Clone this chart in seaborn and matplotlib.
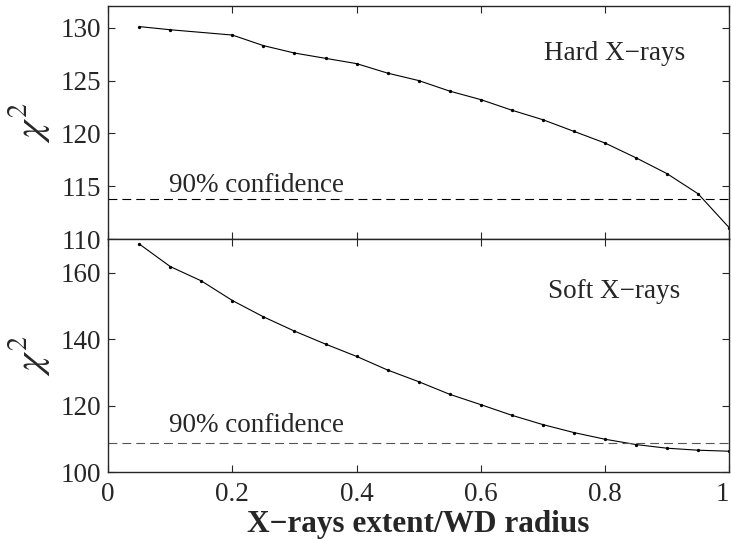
import matplotlib
matplotlib.use("Agg")
import matplotlib.pyplot as plt
import seaborn as sns
import pandas as pd

# extent of the X-ray region in units of WD radius
x_hard = [0.05, 0.1, 0.2, 0.25, 0.3, 0.35, 0.4, 0.45, 0.5, 0.55, 0.6,
          0.65, 0.7, 0.75, 0.8, 0.85, 0.9, 0.95, 1.0]
chi2_hard = [130.1, 129.8, 129.3, 128.3, 127.6, 127.1, 126.6, 125.7, 125.0, 124.0,
             123.2, 122.2, 121.3, 120.2, 119.1, 117.7, 116.2, 114.3, 111.1]
conf_hard = 113.8

x_soft = [0.05, 0.1, 0.15, 0.2, 0.25, 0.3, 0.35, 0.4, 0.45, 0.5, 0.55, 0.6,
          0.65, 0.7, 0.75, 0.8, 0.85, 0.9, 0.95, 1.0]
chi2_soft = [168.6, 161.8, 157.5, 151.6, 146.7, 142.4, 138.5, 134.8, 130.7, 127.2,
             123.4, 120.3, 117.1, 114.3, 111.9, 109.9, 108.3, 107.2, 106.6, 106.3]
conf_soft = 108.9

x_ticks = [0, 0.2, 0.4, 0.6, 0.8, 1]
x_ticklabels = ["0", "0.2", "0.4", "0.6", "0.8", "1"]

sns.set_style("ticks")
plt.rcParams["font.family"] = ["Liberation Serif", "DejaVu Serif"]
plt.rcParams["mathtext.fontset"] = "stix"
plt.rcParams["xtick.direction"] = "in"
plt.rcParams["ytick.direction"] = "in"

df_hard = pd.DataFrame({"x": x_hard, "chi2": chi2_hard})
df_soft = pd.DataFrame({"x": x_soft, "chi2": chi2_soft})

fig = plt.figure(figsize=(7.31, 5.39), dpi=100)
ax1 = fig.add_axes([0.148, 0.556, 0.8495, 0.432])
ax2 = fig.add_axes([0.148, 0.124, 0.8495, 0.432])

panels = [
    (ax1, df_hard, conf_hard, "Hard X\u2212rays", (110, 132), [110, 115, 120, 125, 130],
     127.6, 114.5, "black"),
    (ax2, df_soft, conf_soft, "Soft X\u2212rays", (100, 170), [100, 120, 140, 160],
     154.4, 112.1, "#555555"),
]

for ax, df, conf, name, ylim, yt, name_y, conf_y, dash_col in panels:
    sns.lineplot(data=df, x="x", y="chi2", ax=ax, color="black", lw=0.8,
                 marker="o", markersize=2.4, markeredgewidth=0)
    ax.axhline(conf, color=dash_col, ls=(0, (8, 4.5)), lw=0.8)
    ax.text(0.815, name_y, name, ha="center", va="center", fontsize=19.5)
    ax.text(0.098, conf_y, "90% confidence", ha="left", va="baseline", fontsize=19.5)
    ax.set_xlim(0, 1)
    ax.set_ylim(*ylim)
    ax.set_yticks(yt)
    ax.set_xticks(x_ticks)
    ax.tick_params(top=True, right=True, length=5, width=0.8, labelsize=19.5)
    ax.tick_params(axis="y", pad=5)
    ax.tick_params(axis="x", pad=7)
    ax.set_ylabel(r"$\chi^2$", fontsize=29)
    ax.yaxis.set_label_coords(-0.09, 0.5)
    ax.set_xlabel("")
    for sp in ax.spines.values():
        sp.set_linewidth(1.0)

ax1.set_xticklabels([])
ax2.set_xticklabels(x_ticklabels)
# keep the "1" at the right edge inside the figure
ax2.get_xticklabels()[-1].set_ha("right")
ax2.set_xlabel("X\u2212rays extent/WD radius", fontsize=22.5, fontweight="bold", labelpad=2)

fig.savefig("out.png", dpi=100)
